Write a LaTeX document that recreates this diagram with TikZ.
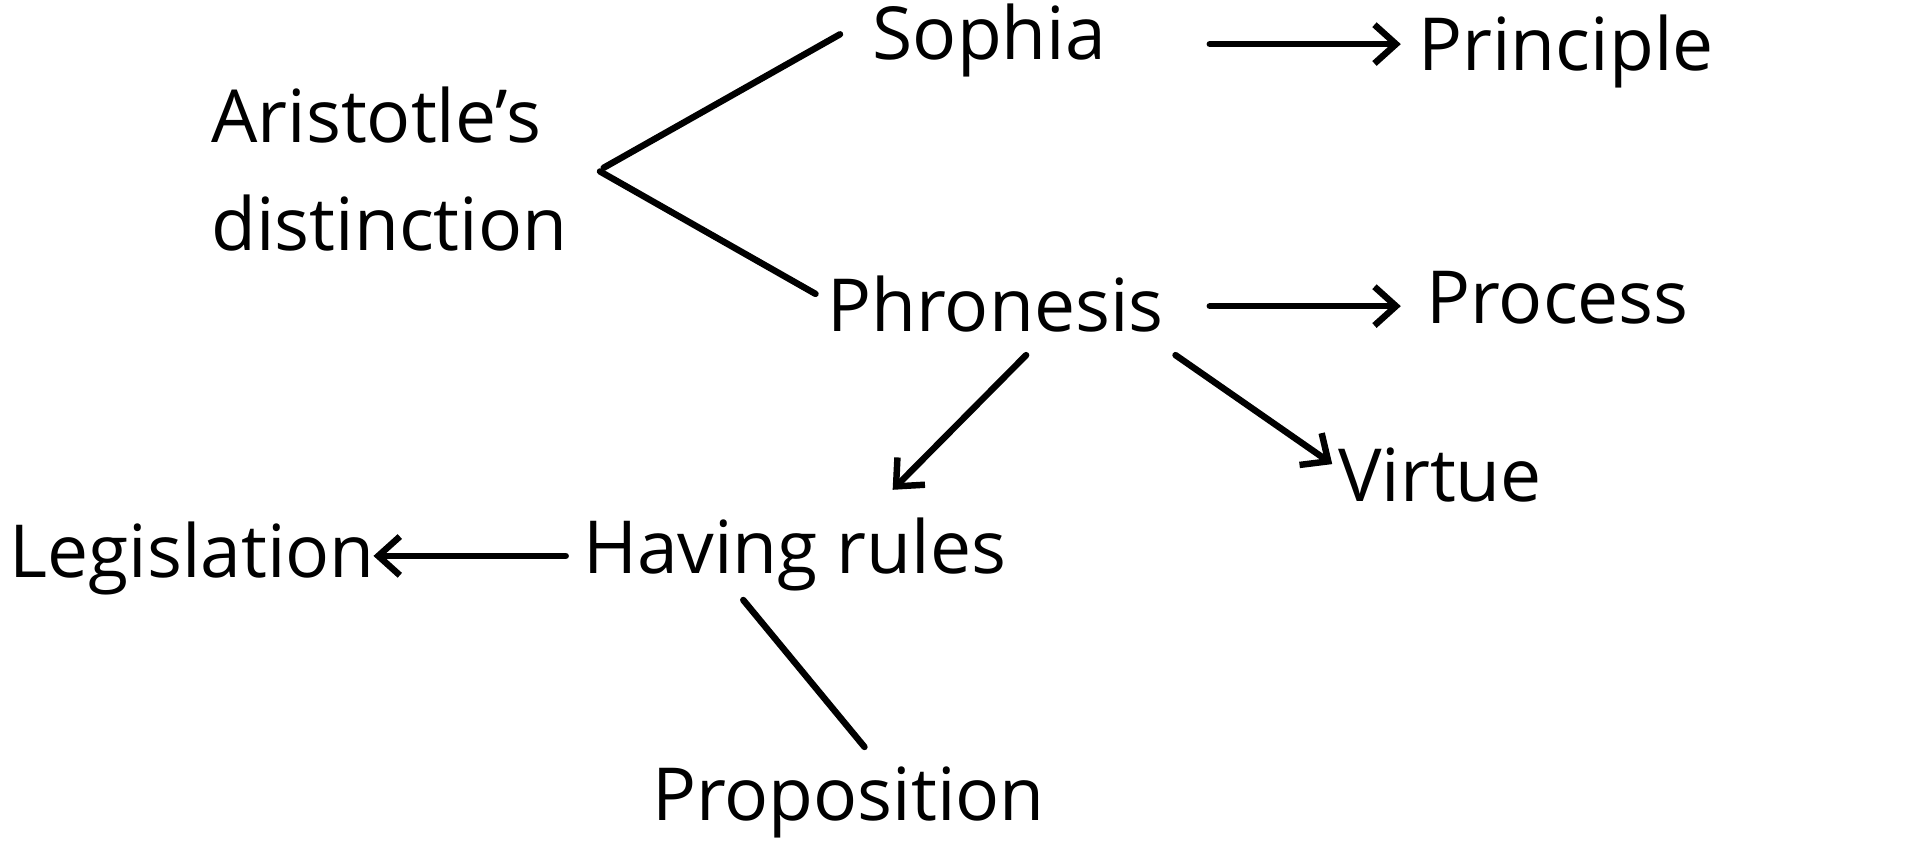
\documentclass[tikz,border=0pt]{standalone}
\usepackage{fontspec}
\setmainfont{Open Sans}
\usetikzlibrary{arrows.meta}
\begin{document}
\begin{tikzpicture}[x=0.01cm,y=-0.01cm,
  lbl/.style={inner sep=0pt,font=\fontsize{17}{25}\selectfont},
  ln/.style={line width=1.5pt,line cap=round},
  arr/.style={ln,-{Straight Barb[length=5pt,width=9pt,line width=1.5pt]}}]
\useasboundingbox (0,0) rectangle (1568,699);
\node[lbl,align=left] (ar) at (318,138) {Aristotle's\\distinction};
\node[lbl] (so) at (808,33) {Sophia};
\node[lbl] (pr) at (1279,42) {Principle};
\node[lbl] (ph) at (813,248) {Phronesis};
\node[lbl] (pc) at (1272,243) {Process};
\node[lbl] (vi) at (1176,388) {Virtue};
\node[lbl] (hr) at (649,453) {Having rules};
\node[lbl] (le) at (157,456) {Legislation};
\node[lbl] (po) at (693,655) {Proposition};
\coordinate (a1) at (686,28); \coordinate (a2) at (493,137);
\coordinate (b1) at (490,140); \coordinate (b2) at (666,240);
\coordinate (c1) at (988,36); \coordinate (c2) at (1144,36);
\coordinate (d1) at (988,250); \coordinate (d2) at (1144,250);
\coordinate (e1) at (838,290); \coordinate (e2) at (729,400);
\coordinate (f1) at (960,290); \coordinate (f2) at (1088,379);
\coordinate (g1) at (462,454); \coordinate (g2) at (305,454);
\coordinate (h1) at (607,490); \coordinate (h2) at (706,610);
\draw[ln] (a1) -- (a2);
\draw[ln] (b1) -- (b2);
\draw[arr] (c1) -- (c2);
\draw[arr] (d1) -- (d2);
\draw[arr] (e1) -- (e2);
\draw[arr] (f1) -- (f2);
\draw[arr] (g1) -- (g2);
\draw[ln] (h1) -- (h2);
\end{tikzpicture}
\end{document}
